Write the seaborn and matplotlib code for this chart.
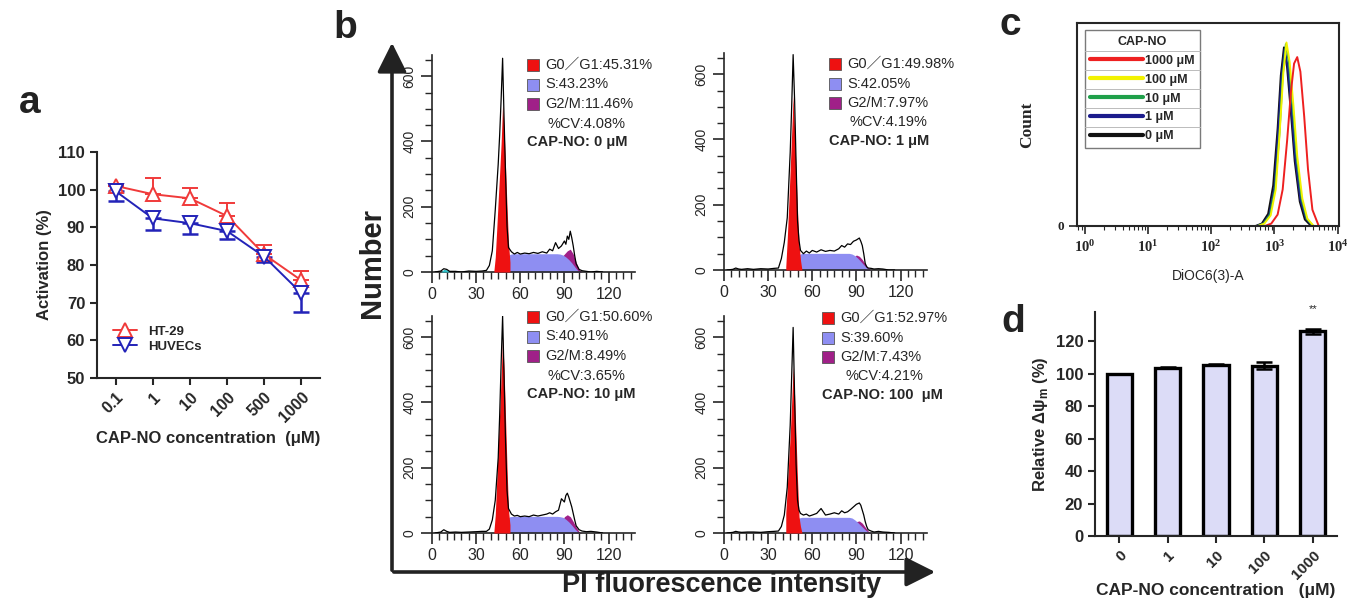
import numpy as np
import pandas as pd
import seaborn as sns
import matplotlib.pyplot as plt
from matplotlib.patches import Rectangle, FancyArrowPatch
from matplotlib.ticker import MultipleLocator, LogLocator, NullFormatter, FixedLocator
from matplotlib.lines import Line2D

sns.set_style('ticks')
plt.rcParams['font.family'] = ['Liberation Sans', 'Noto Sans CJK SC', 'DejaVu Sans']
plt.rcParams['mathtext.fontset'] = 'custom'
plt.rcParams['mathtext.bf'] = 'Liberation Serif:bold'
plt.rcParams['mathtext.rm'] = 'Liberation Serif:bold'
plt.rcParams['mathtext.sf'] = 'Liberation Sans:bold'
plt.rcParams['axes.linewidth'] = 1.5

# ---------- panel a: viability ----------
conc_a = ['0.1', '1', '10', '100', '500', '1000']
ht29 = [101.0, 98.8, 97.7, 93.0, 82.8, 75.9]
ht29_err = [0.6, 4.3, 2.8, 3.4, 2.6, 2.5]
huvec = [99.6, 92.4, 91.1, 89.0, 82.2, 72.5]
huvec_err = [2.6, 3.2, 2.8, 2.1, 1.5, 5.0]

# ---------- panel b: cell cycle histograms ----------
pi_x = [2, 6, 8, 10, 12, 16, 20, 25, 30, 34, 37, 39, 41, 43, 45, 46, 47, 48, 49, 50,
        51, 52, 54, 56, 58, 60, 63, 66, 69, 72, 75, 78, 80, 82, 84, 86, 88, 90, 91, 92,
        93, 94, 95, 96, 97, 98, 100, 102, 105, 108, 112, 116]
pi_0 = [0, 3, 10, 8, 2, 2, 0, 3, 2, 3, 5, 20, 65, 190, 330, 420, 530, 655, 470, 300,
        140, 75, 62, 55, 60, 55, 58, 56, 60, 57, 62, 58, 70, 65, 90, 72, 80, 95, 85, 110,
        100, 125, 105, 80, 50, 25, 8, 4, 2, 0, 2, 0]
pi_1 = [0, 2, 6, 3, 2, 4, 2, 4, 3, 5, 6, 35, 85, 160, 360, 500, 660, 520, 330, 150,
        90, 60, 50, 58, 52, 60, 55, 62, 57, 60, 58, 65, 75, 70, 80, 78, 88, 92, 95, 98,
        88, 75, 50, 20, 10, 6, 5, 3, 4, 3, 0, 0]
pi_10 = [0, 3, 10, 5, 2, 3, 2, 3, 4, 5, 5, 12, 40, 100, 230, 360, 520, 665, 480, 280,
         130, 75, 58, 52, 54, 50, 52, 50, 55, 52, 55, 58, 62, 58, 65, 70, 105, 95, 115, 122,
         110, 95, 80, 60, 40, 22, 10, 6, 4, 5, 3, 0]
pi_100 = [0, 2, 5, 3, 2, 3, 3, 2, 4, 5, 6, 20, 55, 140, 330, 480, 630, 420, 210, 100,
          70, 60, 55, 58, 52, 55, 60, 75, 55, 58, 62, 58, 68, 62, 65, 72, 80, 88, 90, 92,
          85, 70, 55, 35, 20, 10, 6, 3, 5, 3, 2, 0]

g1_x = [42, 43, 44, 45, 46, 47, 48, 49, 50, 51, 52, 53]
g1_0 = [0, 45, 130, 220, 305, 395, 515, 440, 320, 200, 90, 30]
g1_1 = [10, 95, 200, 310, 420, 533, 430, 300, 180, 80, 30, 0]
g1_10 = [0, 55, 160, 265, 370, 480, 600, 500, 350, 200, 70, 25]
g1_100 = [60, 140, 220, 300, 400, 510, 420, 290, 160, 50, 20, 0]

s_x = [41, 43, 45, 47, 49, 51, 53, 55, 85, 87, 89, 91, 93, 95, 97, 99, 101]
s_0 = [0, 0, 5, 15, 30, 45, 54, 56, 56, 55, 52, 46, 38, 28, 16, 5, 0]
s_1 = [0, 3, 10, 22, 36, 47, 51, 51, 51, 49, 44, 36, 26, 16, 7, 1, 0]
s_10 = [0, 0, 3, 12, 28, 44, 50, 51, 51, 50, 48, 42, 34, 24, 13, 4, 0]
s_100 = [0, 4, 12, 25, 38, 46, 48, 48, 48, 46, 40, 32, 23, 14, 6, 1, 0]

g2_x = [86, 88, 90, 92, 94, 96, 98, 100, 102]
g2_0 = [0, 45, 55, 65, 70, 55, 30, 8, 0]
g2_1 = [0, 38, 46, 42, 32, 18, 6, 0, 0]
g2_10 = [0, 30, 50, 56, 50, 35, 18, 4, 0]
g2_100 = [0, 25, 35, 37, 30, 18, 6, 0, 0]

debris_x = [6, 8, 10, 12]
debris_0 = [0, 8, 7, 0]

phase_g1 = ['45.31%', '49.98%', '50.60%', '52.97%']
phase_s = ['43.23%', '42.05%', '40.91%', '39.60%']
phase_g2 = ['11.46%', '7.97%', '8.49%', '7.43%']
phase_cv = ['4.08%', '4.19%', '3.65%', '4.21%']
phase_cap = ['0 μM', '1 μM', '10 μM', '100  μM']

# ---------- panel c: DiOC6(3) flow histograms (log10 of intensity) ----------
c_labels = ['1000 μM', '100 μM', '10 μM', '1 μM', '0 μM']
c_colors = ['#ee2020', '#f2f200', '#1fa04a', '#1c1c8c', '#111111']
c_logx = {
    '0 μM': [-0.1, 2.70, 2.80, 2.90, 2.98, 3.05, 3.10, 3.15, 3.20, 3.26, 3.32, 3.40, 3.48, 3.58, 4.1],
    '1 μM': [-0.1, 2.72, 2.82, 2.92, 3.00, 3.06, 3.11, 3.16, 3.21, 3.27, 3.33, 3.41, 3.50, 3.60, 4.1],
    '10 μM': [-0.1, 2.73, 2.83, 2.93, 3.01, 3.08, 3.13, 3.18, 3.23, 3.29, 3.35, 3.43, 3.51, 3.61, 4.1],
    '100 μM': [-0.1, 2.74, 2.84, 2.94, 3.02, 3.08, 3.14, 3.19, 3.24, 3.30, 3.36, 3.44, 3.52, 3.62, 4.1],
    '1000 μM': [-0.1, 2.85, 2.95, 3.05, 3.13, 3.20, 3.26, 3.31, 3.36, 3.41, 3.47, 3.53, 3.60, 3.70, 4.1],
}
c_count = {
    '0 μM': [0, 0, 3, 15, 50, 120, 185, 220, 195, 140, 80, 30, 8, 0, 0],
    '1 μM': [0, 0, 3, 14, 48, 118, 182, 218, 196, 142, 82, 32, 9, 0, 0],
    '10 μM': [0, 0, 3, 14, 46, 115, 185, 224, 200, 146, 85, 33, 9, 0, 0],
    '100 μM': [0, 0, 3, 13, 45, 112, 188, 226, 202, 148, 86, 34, 9, 0, 0],
    '1000 μM': [0, 0, 3, 14, 45, 105, 165, 200, 208, 190, 135, 70, 20, 0, 0],
}

# ---------- panel d: relative membrane potential ----------
d_conc = ['0', '1', '10', '100', '1000']
d_mean = [100, 103.8, 105.4, 105.0, 126.0]
d_err = [0, 0.6, 0.3, 2.3, 1.7]

W, H = 1348, 604
fig = plt.figure(figsize=(W / 100, H / 100), dpi=100)


def box(l, t, r, b):
    return [l / W, 1 - b / H, (r - l) / W, (b - t) / H]


def fp(x, y):
    return (x / W, 1 - y / H)


RED, BLUE = '#f03a3a', '#2323b8'
bold = dict(fontweight='bold')

# ================= a =================
ax = fig.add_axes(box(97, 152, 320, 378))
pos = np.arange(len(conc_a))
df_a = pd.DataFrame({'pos': np.r_[pos, pos], 'val': ht29 + huvec,
                     'line': ['HT-29'] * 6 + ['HUVECs'] * 6})
sns.lineplot(data=df_a[df_a.line == 'HT-29'], x='pos', y='val', color=RED, marker='^',
             markersize=10, markerfacecolor='white', markeredgecolor=RED, markeredgewidth=1.4,
             lw=1.4, ax=ax, label='HT-29', zorder=3)
sns.lineplot(data=df_a[df_a.line == 'HUVECs'], x='pos', y='val', color=BLUE, marker='v',
             markersize=10, markerfacecolor='white', markeredgecolor=BLUE, markeredgewidth=1.4,
             lw=1.4, ax=ax, label='HUVECs', zorder=3)
ax.errorbar(pos, ht29, yerr=[np.zeros(6), ht29_err], fmt='none', ecolor=RED,
            elinewidth=1.4, capsize=6, capthick=1.4, zorder=2)
ax.errorbar(pos, huvec, yerr=[huvec_err, np.zeros(6)], fmt='none', ecolor=BLUE,
            elinewidth=1.8, capsize=6, capthick=1.8, zorder=2)
ax.set_xlim(-0.5, 5.5)
ax.set_ylim(50, 110)
ax.set_yticks(range(50, 111, 10))
ax.set_xticks(pos)
ax.set_xticklabels(conc_a, rotation=45, ha='right', rotation_mode='anchor', fontsize=11.5, **bold)
for t in ax.get_yticklabels():
    t.set_fontsize(12); t.set_fontweight('bold')
ax.tick_params(width=1.5, length=5)
ax.set_xlabel('CAP-NO concentration  (μM)', fontsize=12, **bold, labelpad=4)
ax.set_ylabel('Activation (%)', fontsize=12, **bold, labelpad=4)
sns.despine(ax=ax)
ax.legend(loc='lower left', bbox_to_anchor=(0.02, 0.06), frameon=False, handlelength=1.8,
          labelspacing=0.2, prop={'weight': 'bold', 'size': 9.5})

# ================= b =================
b_axes = [box(432, 55, 635, 272), box(724, 53, 927, 270),
          box(432, 316, 635, 533), box(724, 316, 927, 533)]
pi_sets = [pi_0, pi_1, pi_10, pi_100]
g1_sets = [g1_0, g1_1, g1_10, g1_100]
s_sets = [s_0, s_1, s_10, s_100]
g2_sets = [g2_0, g2_1, g2_10, g2_100]
C_G1, C_S, C_G2 = '#ee1111', '#8e8ef2', '#a02088'
for i, rect in enumerate(b_axes):
    ax = fig.add_axes(rect)
    ax.fill_between(g2_x, g2_sets[i], color=C_G2, lw=0, zorder=1)
    ax.fill_between(s_x, s_sets[i], color=C_S, lw=0, zorder=2)
    ax.fill_between(g1_x, g1_sets[i], color=C_G1, lw=0, zorder=3)
    if i == 0:
        ax.fill_between(debris_x, debris_0, color='#2cc0c8', lw=0, zorder=3)
    sns.lineplot(x=pi_x, y=pi_sets[i], color='black', lw=0.9, ax=ax, sort=False,
                 estimator=None, zorder=4)
    ax.set_xlim(0, 138)
    ax.set_ylim(0, 665)
    ax.xaxis.set_major_locator(FixedLocator([0, 30, 60, 90, 120]))
    ax.xaxis.set_minor_locator(MultipleLocator(5))
    ax.yaxis.set_major_locator(FixedLocator([0, 200, 400, 600]))
    ax.yaxis.set_minor_locator(MultipleLocator(50))
    ax.tick_params(which='major', length=8, width=1.2, pad=3)
    ax.tick_params(which='minor', length=5, width=1.0)
    for t in ax.get_xticklabels():
        t.set_fontsize(11.5)
    for t in ax.get_yticklabels():
        t.set_rotation(90); t.set_va('center'); t.set_fontsize(10)
    sns.despine(ax=ax)
    ax.spines[['left', 'bottom']].set_linewidth(1.2)

# phase legends
blocks = [(527, 65), (829, 64), (527, 317), (822, 318)]
cv_dx = [21, 21, 21, 23]
for i, (bx, by) in enumerate(blocks):
    labels = [f'G0／G1:{phase_g1[i]}', f'S:{phase_s[i]}', f'G2/M:{phase_g2[i]}']
    for k, (c, lab) in enumerate(zip([C_G1, C_S, C_G2], labels)):
        yy = by + k * 19.5
        fig.add_artist(Rectangle(fp(bx, yy + 6), 12 / W, 12 / H, facecolor=c,
                                 edgecolor='#555555', lw=0.6, transform=fig.transFigure))
        fig.text(*fp(bx + 18, yy), lab, fontsize=10.5, va='center', ha='left')
    fig.text(*fp(bx + cv_dx[i], by + 58.5), f'%CV:{phase_cv[i]}', fontsize=10.5, va='center')
    fig.text(*fp(bx, by + 77), f'CAP-NO: {phase_cap[i]}', fontsize=10.5, va='center', **bold)

fig.add_artist(FancyArrowPatch(fp(392, 573), fp(392, 40), transform=fig.transFigure,
                               arrowstyle='-|>,head_length=0.9,head_width=0.45',
                               mutation_scale=20, lw=2.6, color='#222222'))
fig.add_artist(FancyArrowPatch(fp(391, 572), fp(938, 572), transform=fig.transFigure,
                               arrowstyle='-|>,head_length=0.9,head_width=0.45',
                               mutation_scale=20, lw=2.6, color='#222222'))
fig.text(*fp(372, 263), 'Number', rotation=90, fontsize=21, ha='center', va='center',
         color='#222222', **bold)
fig.text(*fp(722, 585), 'PI fluorescence intensity', fontsize=19.5, ha='center', va='center',
         color='#222222', **bold)

# ================= c =================
ax = fig.add_axes(box(1077, 23, 1339, 226))
rows = []
for lab in c_labels[::-1]:
    for lx, cnt in zip(c_logx[lab], c_count[lab]):
        rows.append((10 ** lx, cnt, lab))
df_c = pd.DataFrame(rows, columns=['intensity', 'count', 'conc'])
sns.lineplot(data=df_c, x='intensity', y='count', hue='conc', hue_order=c_labels[::-1],
             palette=dict(zip(c_labels, c_colors)), sort=False, estimator=None, lw=1.4,
             ax=ax, legend=False)
ax.set_xscale('log')
ax.set_xlim(10 ** -0.12, 10 ** 4.02)
ax.set_ylim(0, 250)
ax.set_yticks([0])
ax.set_yticklabels(['0'], fontfamily='Liberation Serif', fontweight='bold', fontsize=9.5)
ax.xaxis.set_major_locator(FixedLocator([1, 10, 100, 1000, 10000]))
ax.set_xticklabels([r'$\mathbf{10^{%d}}$' % k for k in range(5)], fontsize=10.5)
ax.xaxis.set_minor_locator(LogLocator(base=10, subs=np.arange(2, 10)))
ax.xaxis.set_minor_formatter(NullFormatter())
ax.tick_params(which='major', length=6, width=1.2)
ax.tick_params(which='minor', length=3, width=0.8)
ax.set_xlabel('DiOC6(3)-A', fontsize=10, labelpad=10)
ax.set_ylabel('Count', fontsize=12.5, fontfamily='Liberation Serif', fontweight='bold',
              labelpad=16)
handles = [Line2D([], [], color=c, lw=3) for c in c_colors]
leg = ax.legend(handles, c_labels, title='CAP-NO', loc='upper left',
                bbox_to_anchor=(0.005, 0.995), fancybox=False, edgecolor='#7a7a7a',
                framealpha=1, borderpad=0.45, handlelength=4.2, handletextpad=0.2,
                labelspacing=0.55, prop={'weight': 'bold', 'size': 9},
                title_fontproperties={'weight': 'bold', 'size': 9})
leg.get_frame().set_linewidth(1.0)

# ================= d =================
ax = fig.add_axes(box(1095, 312, 1337, 536))
sns.barplot(x=d_conc, y=d_mean, color='#dcdcf7', saturation=1, edgecolor='black',
            linewidth=2.4, width=0.52, errorbar=None, ax=ax)
ax.errorbar(np.arange(5), d_mean, yerr=d_err, fmt='none', ecolor='black', elinewidth=1.8,
            capsize=6, capthick=1.8)
ax.text(4, 139.5, '**', ha='center', va='center', fontsize=8)
ax.set_xlim(-0.5, 4.5)
ax.set_ylim(0, 138)
ax.set_yticks(range(0, 121, 20))
ax.set_xticks(range(5))
ax.set_xticklabels(d_conc, rotation=45, ha='right', rotation_mode='anchor', fontsize=11, **bold)
for t in ax.get_yticklabels():
    t.set_fontsize(12); t.set_fontweight('bold')
ax.tick_params(width=1.5, length=5)
ax.set_xlabel('CAP-NO concentration   (μM)', fontsize=12.5, **bold, labelpad=1)
ax.set_ylabel(r'Relative Δψ$_{\mathsf{m}}$ (%)', fontsize=12, **bold, labelpad=4)
sns.despine(ax=ax)

# panel letters
for lab, x, y in [('a', 30, 103), ('b', 345, 28), ('c', 1010, 25), ('d', 1013, 322)]:
    fig.text(*fp(x, y), lab, fontsize=28, ha='center', va='center', color='#222222', **bold)

# separator lines between legend rows in panel c (table look)
fig.canvas.draw()
fb = leg.get_frame().get_window_extent()
row_items = [leg.get_title()] + leg.get_texts()
centers = [(t.get_window_extent().y0 + t.get_window_extent().y1) / 2 for t in row_items]
for y0, y1 in zip(centers[:-1], centers[1:]):
    ym = (y0 + y1) / 2
    fig.add_artist(Line2D([fb.x0 / W, fb.x1 / W], [ym / H, ym / H], color='#bbbbbb',
                          lw=0.7, transform=fig.transFigure))

fig.savefig('out.png', dpi=100)
